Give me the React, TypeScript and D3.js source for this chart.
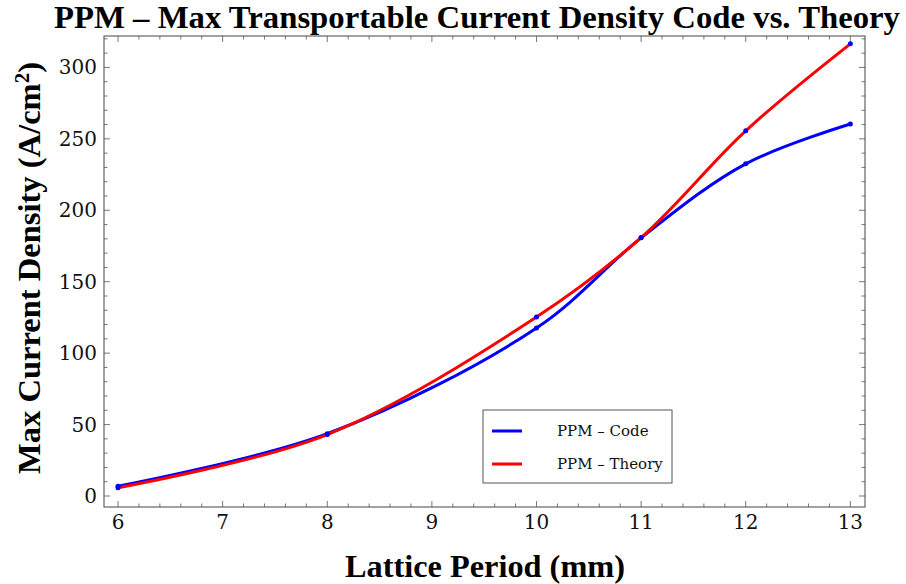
import React from "react";
import * as d3 from "d3";

const periods = [6, 8, 10, 11, 12, 13];
const codeValues = [6.8, 43.6, 117.6, 180.7, 232.5, 260.4];
const theoryValues = [5.8, 43.0, 125.3, 180.9, 255.6, 316.5];
const xTicks = [6, 7, 8, 9, 10, 11, 12, 13];
const yTicks = [0, 50, 100, 150, 200, 250, 300];
const seriesNames = ["PPM \u2013 Code", "PPM \u2013 Theory"];
const seriesColors = ["#0000ff", "#ff0000"];

const W = 906;
const H = 584;
const L = 104, R = 865, T = 36, B = 507;

export default function App() {
  const x = d3.scaleLinear().domain([5.866, 13.14]).range([L, R]);
  const y = d3.scaleLinear().domain([-7.7, 322]).range([B, T]);
  const line = d3
    .line<[number, number]>()
    .x((d) => x(d[0]))
    .y((d) => y(d[1]))
    .curve(d3.curveCatmullRom.alpha(0.5));
  const series = [codeValues, theoryValues].map((vals) =>
    periods.map((p, i) => [p, vals[i]] as [number, number])
  );
  const xMinor = d3.range(5.8, 13.2001, 0.2).filter((v) => v >= 5.866 && v <= 13.14);
  const yMinor = d3.range(-10, 330, 10).filter((v) => v >= -7.7 && v <= 322);
  const serif = "'DejaVu Serif', serif";
  const bold = "'Liberation Serif', 'Times New Roman', serif";
  return (
    <svg width={W} height={H} style={{ position: "absolute", left: 0, top: 0, background: "#fff" }}>
      <rect x={0} y={0} width={W} height={H} fill="#fff" />
      <text x={477} y={28} textAnchor="middle" fontFamily={bold} fontWeight="bold" fontSize={31} textLength={846} lengthAdjust="spacingAndGlyphs">
        PPM – Max Transportable Current Density Code vs. Theory
      </text>
      {/* frame */}
      <rect x={L} y={T} width={R - L} height={B - T} fill="none" stroke="#444" strokeWidth={1} />
      {/* x ticks */}
      {xMinor.map((v, i) => {
        const major = Math.abs(v - Math.round(v)) < 1e-6;
        const len = major ? 6 : 3.5;
        return (
          <g key={"xm" + i} stroke="#555" strokeWidth={0.8}>
            <line x1={x(v)} x2={x(v)} y1={B} y2={B - len} />
            <line x1={x(v)} x2={x(v)} y1={T} y2={T + len} />
          </g>
        );
      })}
      {yMinor.map((v, i) => {
        const major = v % 50 === 0;
        const len = major ? 6 : 3.5;
        return (
          <g key={"ym" + i} stroke="#555" strokeWidth={0.8}>
            <line x1={L} x2={L + len} y1={y(v)} y2={y(v)} />
            <line x1={R} x2={R - len} y1={y(v)} y2={y(v)} />
          </g>
        );
      })}
      {xTicks.map((t) => (
        <text key={"xt" + t} x={x(t)} y={529} textAnchor="middle" fontFamily={serif} fontSize={20} fill="#111">
          {t}
        </text>
      ))}
      {yTicks.map((t) => (
        <text key={"yt" + t} x={97} y={y(t) + 7} textAnchor="end" fontFamily={serif} fontSize={20} fill="#111">
          {t}
        </text>
      ))}
      <text x={485} y={577} textAnchor="middle" fontFamily={bold} fontWeight="bold" fontSize={31} textLength={280} lengthAdjust="spacingAndGlyphs">
        Lattice Period (mm)
      </text>
      <text transform="translate(40,268) rotate(-90)" textAnchor="middle" fontFamily={bold} fontWeight="bold" fontSize={31} textLength={412} lengthAdjust="spacingAndGlyphs">
        Max Current Density (A/cm<tspan baselineShift="super" fontSize={20}>2</tspan>)
      </text>
      {/* curves */}
      {series.map((s, i) => (
        <path key={"s" + i} d={line(s) || ""} fill="none" stroke={seriesColors[i]} strokeWidth={3} />
      ))}
      {series.map((s, i) =>
        s.map((d, j) => (
          <circle key={"p" + i + "-" + j} cx={x(d[0])} cy={y(d[1])} r={2.5} fill="#0000ff" />
        ))
      )}
      {/* legend */}
      <rect x={483} y={410} width={189} height={73} fill="#fff" stroke="#555" strokeWidth={1} />
      {seriesNames.map((n, i) => (
        <g key={"lg" + i}>
          <line x1={492} x2={522} y1={431 + i * 33} y2={431 + i * 33} stroke={seriesColors[i]} strokeWidth={3} />
          <text x={557} y={436 + i * 33} fontFamily={serif} fontSize={15} fill="#111">
            {n}
          </text>
        </g>
      ))}
    </svg>
  );
}
